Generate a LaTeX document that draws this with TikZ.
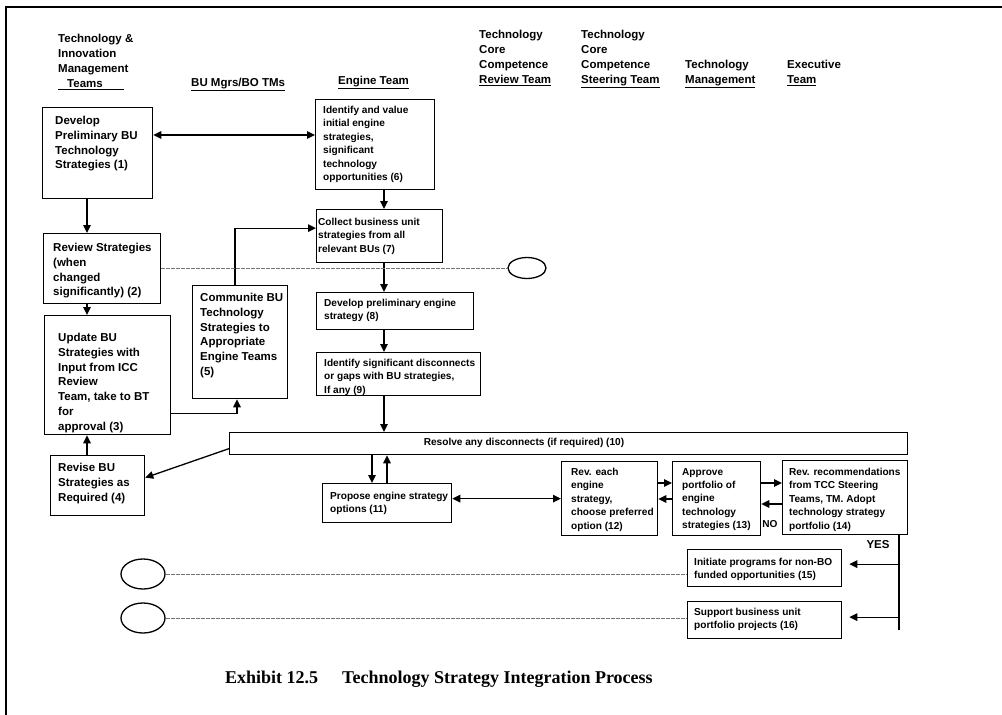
\documentclass[tikz,border=0pt]{standalone}
\usepackage{fontspec}
\setmainfont{Liberation Serif}
\setsansfont{Liberation Sans}
\usetikzlibrary{arrows.meta,calc,shapes.geometric}

\tikzset{
  frame/.style={line width=2.6pt},
  procbox/.style={draw, line width=1.3pt, rectangle, inner sep=0pt, anchor=north west},
  bigtxt/.style={font=\sffamily\bfseries\fontsize{11.5}{14.8}\selectfont, align=left, anchor=north west, inner sep=0pt},
  smalltxt/.style={font=\sffamily\bfseries\fontsize{10.1}{13.4}\selectfont, align=left, anchor=north west, inner sep=0pt},
  hdr/.style={font=\sffamily\bfseries\fontsize{11.5}{15}\selectfont, align=left, anchor=north west, inner sep=0pt},
  link/.style={line width=1.3pt},
  arr/.style={link, -{Triangle[length=8pt,width=7.5pt]}},
  darr/.style={link, {Triangle[length=8pt,width=7.5pt]}-{Triangle[length=8pt,width=7.5pt]}},
  dotlink/.style={line width=0.7pt, black!55, dash pattern=on 4pt off 1pt},
  oval/.style={draw, ellipse, line width=1.3pt, inner sep=0pt},
}

% #1 name, #2-#5 left/top/right/bottom, #6-#7 text corner, #8 text style, #9 text
\newcommand{\flowbox}[9]{%
  \node[procbox, minimum width={#4-#2}, minimum height={#5-#3}] (#1) at (#2,#3) {};
  \node[#8] (#1t) at (#6,#7) {#9};
}

\begin{document}
\begin{tikzpicture}[x=1pt, y=-1pt]
\useasboundingbox (0,0) rectangle (1002,715);

% page frame
\draw[frame] (6,715) -- (6,7) -- (1002,7);

% column headings
\node[hdr] (hA) at (58,34) {Technology \&\\Innovation\\Management\\\underline{\hspace{9pt}Teams\hspace{21pt}}};
\node[hdr] (hB) at (191,78) {\underline{BU Mgrs/BO TMs}};
\node[hdr] (hC) at (338,76) {\underline{Engine Team}};
\node[hdr] (hD) at (479,30) {Technology\\Core\\Competence\\\underline{Review Team}};
\node[hdr] (hE) at (581,30) {Technology\\Core\\Competence\\\underline{Steering Team}};
\node[hdr] (hF) at (685,60) {Technology\\\underline{Management}};
\node[hdr] (hG) at (787,60) {Executive\\\underline{Team}};

% process steps
\flowbox{b1}{42}{107}{152}{198}{55}{116}{bigtxt}{Develop\\Preliminary BU\\Technology\\Strategies (1)}
\flowbox{b2}{43}{233}{160}{303}{53}{243}{bigtxt}{Review Strategies\\(when\\changed\\significantly) (2)}
\flowbox{b3}{44}{315}{170}{434}{58}{333}{bigtxt}{Update BU\\Strategies with\\Input from ICC\\Review\\Team, take to BT\\for\\approval (3)}
\flowbox{b4}{50}{455}{144}{515}{58}{463}{bigtxt}{Revise BU\\Strategies as\\Required (4)}
\flowbox{b5}{192}{285}{287}{398}{200}{293}{bigtxt}{Communite BU\\Technology\\Strategies to\\Appropriate\\Engine Teams\\(5)}
\flowbox{b6}{315}{99}{434}{189}{323}{106}{smalltxt}{Identify and value\\initial engine\\strategies,\\significant\\technology\\opportunities (6)}
\flowbox{b7}{316}{209}{442}{262}{318}{218}{smalltxt}{Collect business unit\\strategies from all\\relevant BUs (7)}
\flowbox{b8}{316}{292}{473}{329}{324}{299}{smalltxt}{Develop preliminary engine\\strategy (8)}
\flowbox{b9}{316}{352}{480}{395}{324}{359}{smalltxt}{Identify significant disconnects\\or gaps with BU strategies,\\If any (9)}
\node[procbox, minimum width=678, minimum height=22] (b10) at (229,432) {};
\node[smalltxt, anchor=center] (b10t) at (524,443) {Resolve any disconnects (if required) (10)};
\flowbox{b11}{322}{483}{451}{522}{330}{492}{smalltxt}{Propose engine strategy\\options (11)}
\flowbox{b12}{561}{461}{657}{535}{571}{468}{smalltxt}{Rev. each\\engine\\strategy,\\choose preferred\\option (12)}
\flowbox{b13}{672}{461}{760}{535}{682}{468}{smalltxt}{Approve\\portfolio of\\engine\\technology\\strategies (13)}
\flowbox{b14}{782}{460}{907}{534}{789}{468}{smalltxt}{Rev. recommendations\\from TCC Steering\\Teams, TM. Adopt\\technology strategy\\portfolio (14)}
\flowbox{b15}{687}{549}{841}{586}{694}{558}{smalltxt}{Initiate programs for non-BO\\funded opportunities (15)}
\flowbox{b16}{687}{601}{841}{638}{694}{608}{smalltxt}{Support business unit\\portfolio projects (16)}

% connector ovals
\node[oval, minimum width=38pt, minimum height=21pt] (e1) at (527,268) {};
\node[oval, minimum width=44pt, minimum height=30pt] (e2) at (143,574) {};
\node[oval, minimum width=44pt, minimum height=30pt] (e3) at (143,618) {};

% guide coordinates
\coordinate (lsp) at (87,0);
\coordinate (esp) at (384,0);
\coordinate (x5) at (237,0);
\coordinate (x5t) at (235,0);
\coordinate (x11a) at (372,0);
\coordinate (x11b) at (387,0);
\coordinate (r1) at (0,483);
\coordinate (r2) at (0,499);
\coordinate (r3) at (0,504);
\coordinate (yx) at (899,0);
\coordinate (yend) at (899,630);

% left column flow
\draw[arr] (b1.south -| lsp) -- (b2.north -| lsp);
\draw[arr] (b2.south -| lsp) -- (b3.north -| lsp);
\draw[arr] (b4.north -| lsp) -- (b3.south -| lsp);
\coordinate (c16) at ([yshift=-28pt]b1.north east);
\draw[darr] (c16) -- (c16 -| b6.west);
\coordinate (c35) at ([yshift=22pt]b3.south east);
\draw[arr] (c35) -| (b5.south -| x5);
\draw[arr] (b5.north -| x5t) |- ([yshift=8pt]b7.west);

% engine team flow
\draw[arr] (b6.south -| esp) -- (b7.north -| esp);
\draw[arr] (b7.south -| esp) -- (b8.north -| esp);
\draw[arr] (b8.south -| esp) -- (b9.north -| esp);
\draw[arr] (b9.south -| esp) -- (b10.north -| esp);
\draw[arr] ([yshift=-5pt]b10.west) -- ([yshift=8pt]b4.east);
\draw[arr] (b10.south -| x11a) -- (b11.north -| x11a);
\draw[arr] (b11.north -| x11b) -- (b10.south -| x11b);
\draw[darr] (b12.west) -- (b12.west -| b11.east);

% review and approval loop
\draw[arr] (b12.east |- r1) -- (b13.west |- r1);
\draw[arr] (b13.west |- r2) -- (b12.east |- r2);
\draw[arr] (b13.east |- r1) -- (b14.west |- r1);
\draw[arr] (b14.west |- r3) -- (b13.east |- r3);
\node[smalltxt, anchor=center] (no) at (770,524) {NO};

% approved outcomes
\draw[link] (b14.south -| yx) -- (yend);
\node[hdr, anchor=center] (yes) at (878,545) {YES};
\coordinate (a15) at ([yshift=4pt]b15.east);
\coordinate (a16) at ([yshift=3pt]b16.east);
\draw[arr, shorten >=7pt] (a15 -| yx) -- (a15);
\draw[arr, shorten >=7pt] (a16 -| yx) -- (a16);

% off-page links
\draw[dotlink] (b2.east |- e1.west) -- (e1.west);
\draw[dotlink] (e2.east) -- (e2.east -| b15.west);
\draw[dotlink] (e3.east) -- (e3.east -| b16.west);

% caption
\node[font=\rmfamily\bfseries\fontsize{18}{21}\selectfont, anchor=base west, inner sep=0pt] (cap) at (225,683)
  {Exhibit 12.5\hspace{24pt}Technology Strategy Integration Process};
\end{tikzpicture}
\end{document}
